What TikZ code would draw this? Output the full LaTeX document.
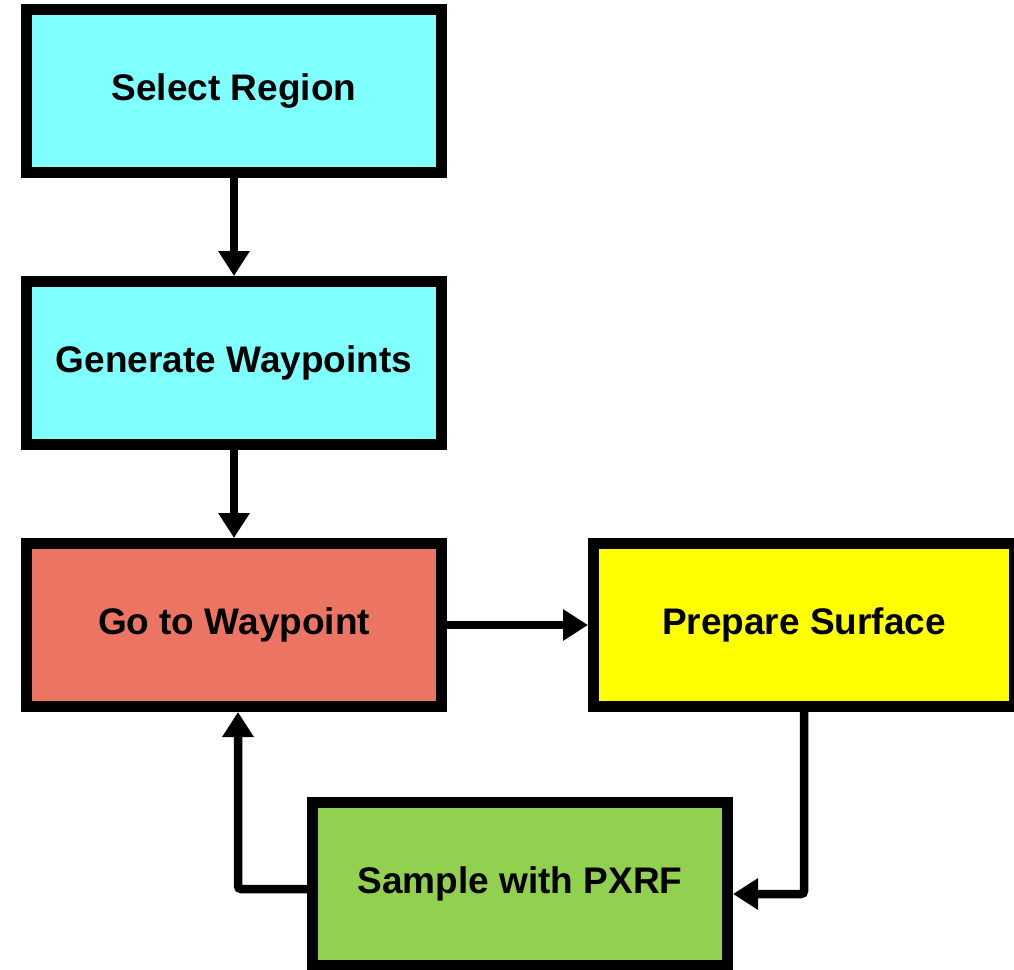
\documentclass[tikz,border=0pt]{standalone}
\usepackage{fontspec}
\setmainfont{Liberation Sans}
\usetikzlibrary{arrows.meta, positioning}

\definecolor{boxcyan}{HTML}{80FFFF}
\definecolor{boxsalmon}{HTML}{EB7562}
\definecolor{boxyellow}{HTML}{FFFF00}
\definecolor{boxgreen}{HTML}{92D050}

\tikzset{
  stepbox/.style={draw, line width=11pt, minimum width=415pt, minimum height=163pt,
    font=\fontsize{37}{44}\selectfont\bfseries},
  flow/.style={-{Triangle[width=30pt,length=25pt]}, line width=8.5pt}
}

\begin{document}
\begin{tikzpicture}[x=1pt, y=1pt]
    \useasboundingbox (0,0) rectangle (1014,-969);

    % Boxes
    \node[stepbox, fill=boxcyan] (select) at (234,-91) {Select Region};
    \node[stepbox, fill=boxcyan, below=98pt of select] (generate) {Generate Waypoints};
    \node[stepbox, fill=boxsalmon, below=88pt of generate] (goto) {Go to Waypoint};
    \node[stepbox, fill=boxyellow, minimum width=421pt, right=141pt of goto] (prepare) {Prepare Surface};
    \node[stepbox, fill=boxgreen, below=85pt of goto, xshift=286pt] (sample) {Sample with PXRF};

    % Arrows
    \draw[flow] (select) -- (generate);
    \draw[flow] (generate) -- (goto);
    \draw[flow] (goto) -- (prepare);
    \draw[flow, rounded corners=3pt] (prepare.south) |- ([yshift=-10pt]sample.east);
    \draw[flow, rounded corners=3pt] ([yshift=-5pt]sample.west) -| ([xshift=4pt]goto.south);
  \end{tikzpicture}
\end{document}
